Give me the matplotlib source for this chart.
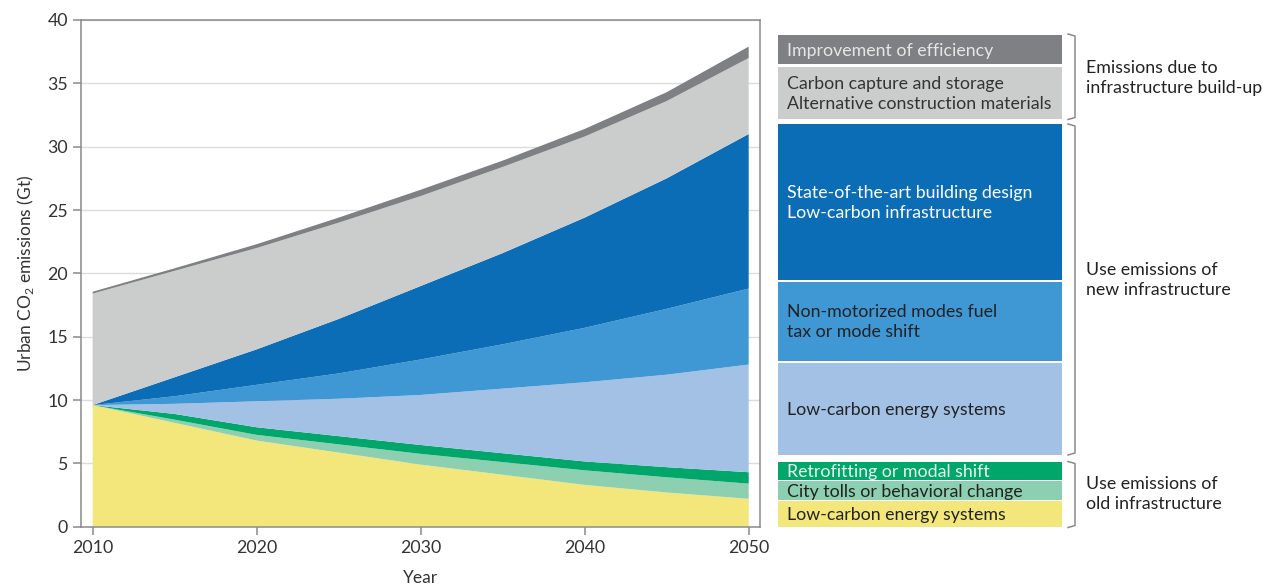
import matplotlib
matplotlib.use("Agg")
import matplotlib.pyplot as plt
from matplotlib.patches import Rectangle

plt.rcParams['font.family'] = ['Lato', 'DejaVu Sans']
plt.rcParams['mathtext.fontset'] = 'custom'
plt.rcParams['mathtext.rm'] = 'Lato'

# years and layer thicknesses (Gt), bottom to top
years = [2010, 2015, 2020, 2025, 2030, 2035, 2040, 2045, 2050]
old_energy = [9.6, 8.2, 6.8, 5.85, 4.9, 4.1, 3.3, 2.7, 2.2]
city_tolls = [0.0, 0.25, 0.45, 0.65, 0.85, 1.0, 1.15, 1.2, 1.2]
retrofitting = [0.0, 0.45, 0.6, 0.65, 0.7, 0.7, 0.7, 0.8, 0.9]
new_energy = [0.0, 0.8, 2.05, 2.95, 3.95, 5.1, 6.25, 7.3, 8.5]
non_motorized = [0.0, 0.6, 1.3, 2.0, 2.8, 3.5, 4.3, 5.2, 6.0]
building_design = [0.0, 1.5, 2.8, 4.3, 5.8, 7.2, 8.7, 10.3, 12.2]
carbon_capture = [8.8, 8.4, 8.0, 7.6, 7.1, 6.8, 6.4, 6.1, 6.0]
efficiency = [0.15, 0.2, 0.3, 0.4, 0.5, 0.5, 0.6, 0.7, 0.9]

layers = [old_energy, city_tolls, retrofitting, new_energy, non_motorized,
          building_design, carbon_capture, efficiency]
colors = ['#f3e77b', '#8dd0b1', '#00a66a', '#a2c1e5', '#3f97d3',
          '#0a6db5', '#cbcccc', '#7f8083']

# legend box texts, top to bottom
box_labels = ["Improvement of efficiency",
              "Carbon capture and storage\nAlternative construction materials",
              "State-of-the-art building design\nLow-carbon infrastructure",
              "Non-motorized modes fuel\ntax or mode shift",
              "Low-carbon energy systems",
              "Retrofitting or modal shift",
              "City tolls or behavioral change",
              "Low-carbon energy systems"]
box_colors = colors[::-1]
box_text_colors = ['#e6e6e6', '#333333', '#ffffff', '#222222', '#222222',
                   '#e8f5ee', '#222222', '#222222']
group_labels = ["Emissions due to\ninfrastructure build-up",
                "Use emissions of\nnew infrastructure",
                "Use emissions of\nold infrastructure"]

W, H = 1263, 588
fig = plt.figure(figsize=(W / 100, H / 100), dpi=100)
ax = fig.add_axes([81 / W, 1 - 526.7 / H, (760 - 81) / W, (526.7 - 20) / H])

ax.stackplot(years, *layers, colors=colors, linewidth=0)
ax.set_xlim(2009.29, 2050.69)
ax.set_ylim(0, 40)
ax.set_xticks([2010, 2020, 2030, 2040, 2050])
ax.set_yticks(range(0, 41, 5))
ax.yaxis.grid(True, color='#dcdcdc', linewidth=1)
ax.set_axisbelow(True)
for s in ax.spines.values():
    s.set_color('#8a8a8a')
    s.set_linewidth(1.1)
ax.tick_params(colors='#8a8a8a', labelcolor='#333333', labelsize=12.8,
               length=6, width=1.1)
ax.set_ylabel("Urban CO$_\\mathregular{2}$ emissions (Gt)", fontsize=12.5,
              color='#333333', labelpad=8)
ax.set_xlabel("Year", fontsize=12.5, color='#333333', labelpad=10)

# right-hand legend panel in pixel coordinates
ov = fig.add_axes([0, 0, 1, 1])
ov.set_xlim(0, W)
ov.set_ylim(H, 0)
ov.axis('off')

box_spans = [(35, 64.3), (66.7, 119.3), (124, 280), (281.7, 361),
             (362.7, 455), (461.7, 480), (481, 500), (501, 527.3)]
x0, x1 = 777.5, 1061.5
for (t, b), c, lab, tc in zip(box_spans, box_colors, box_labels, box_text_colors):
    ov.add_patch(Rectangle((x0, t), x1 - x0, b - t, facecolor=c, edgecolor='none'))
    ov.text(787, (t + b) / 2 + 1, lab, color=tc, fontsize=12.8, va='center',
            ha='left', linespacing=1.32)

bracket_spans = [(34, 119.5), (124, 455), (461.5, 527.5)]
label_y = [78, 280, 494]
for (t, b), lab, y in zip(bracket_spans, group_labels, label_y):
    ov.plot([1068, 1075, 1075, 1068], [t, t + 2, b - 2, b], color='#8a8a8a',
            linewidth=1.1, solid_joinstyle='round')
    ov.text(1086, y, lab, fontsize=12.8, color='#222222', va='center',
            ha='left', linespacing=1.32)

fig.savefig("out.png", dpi=100)
